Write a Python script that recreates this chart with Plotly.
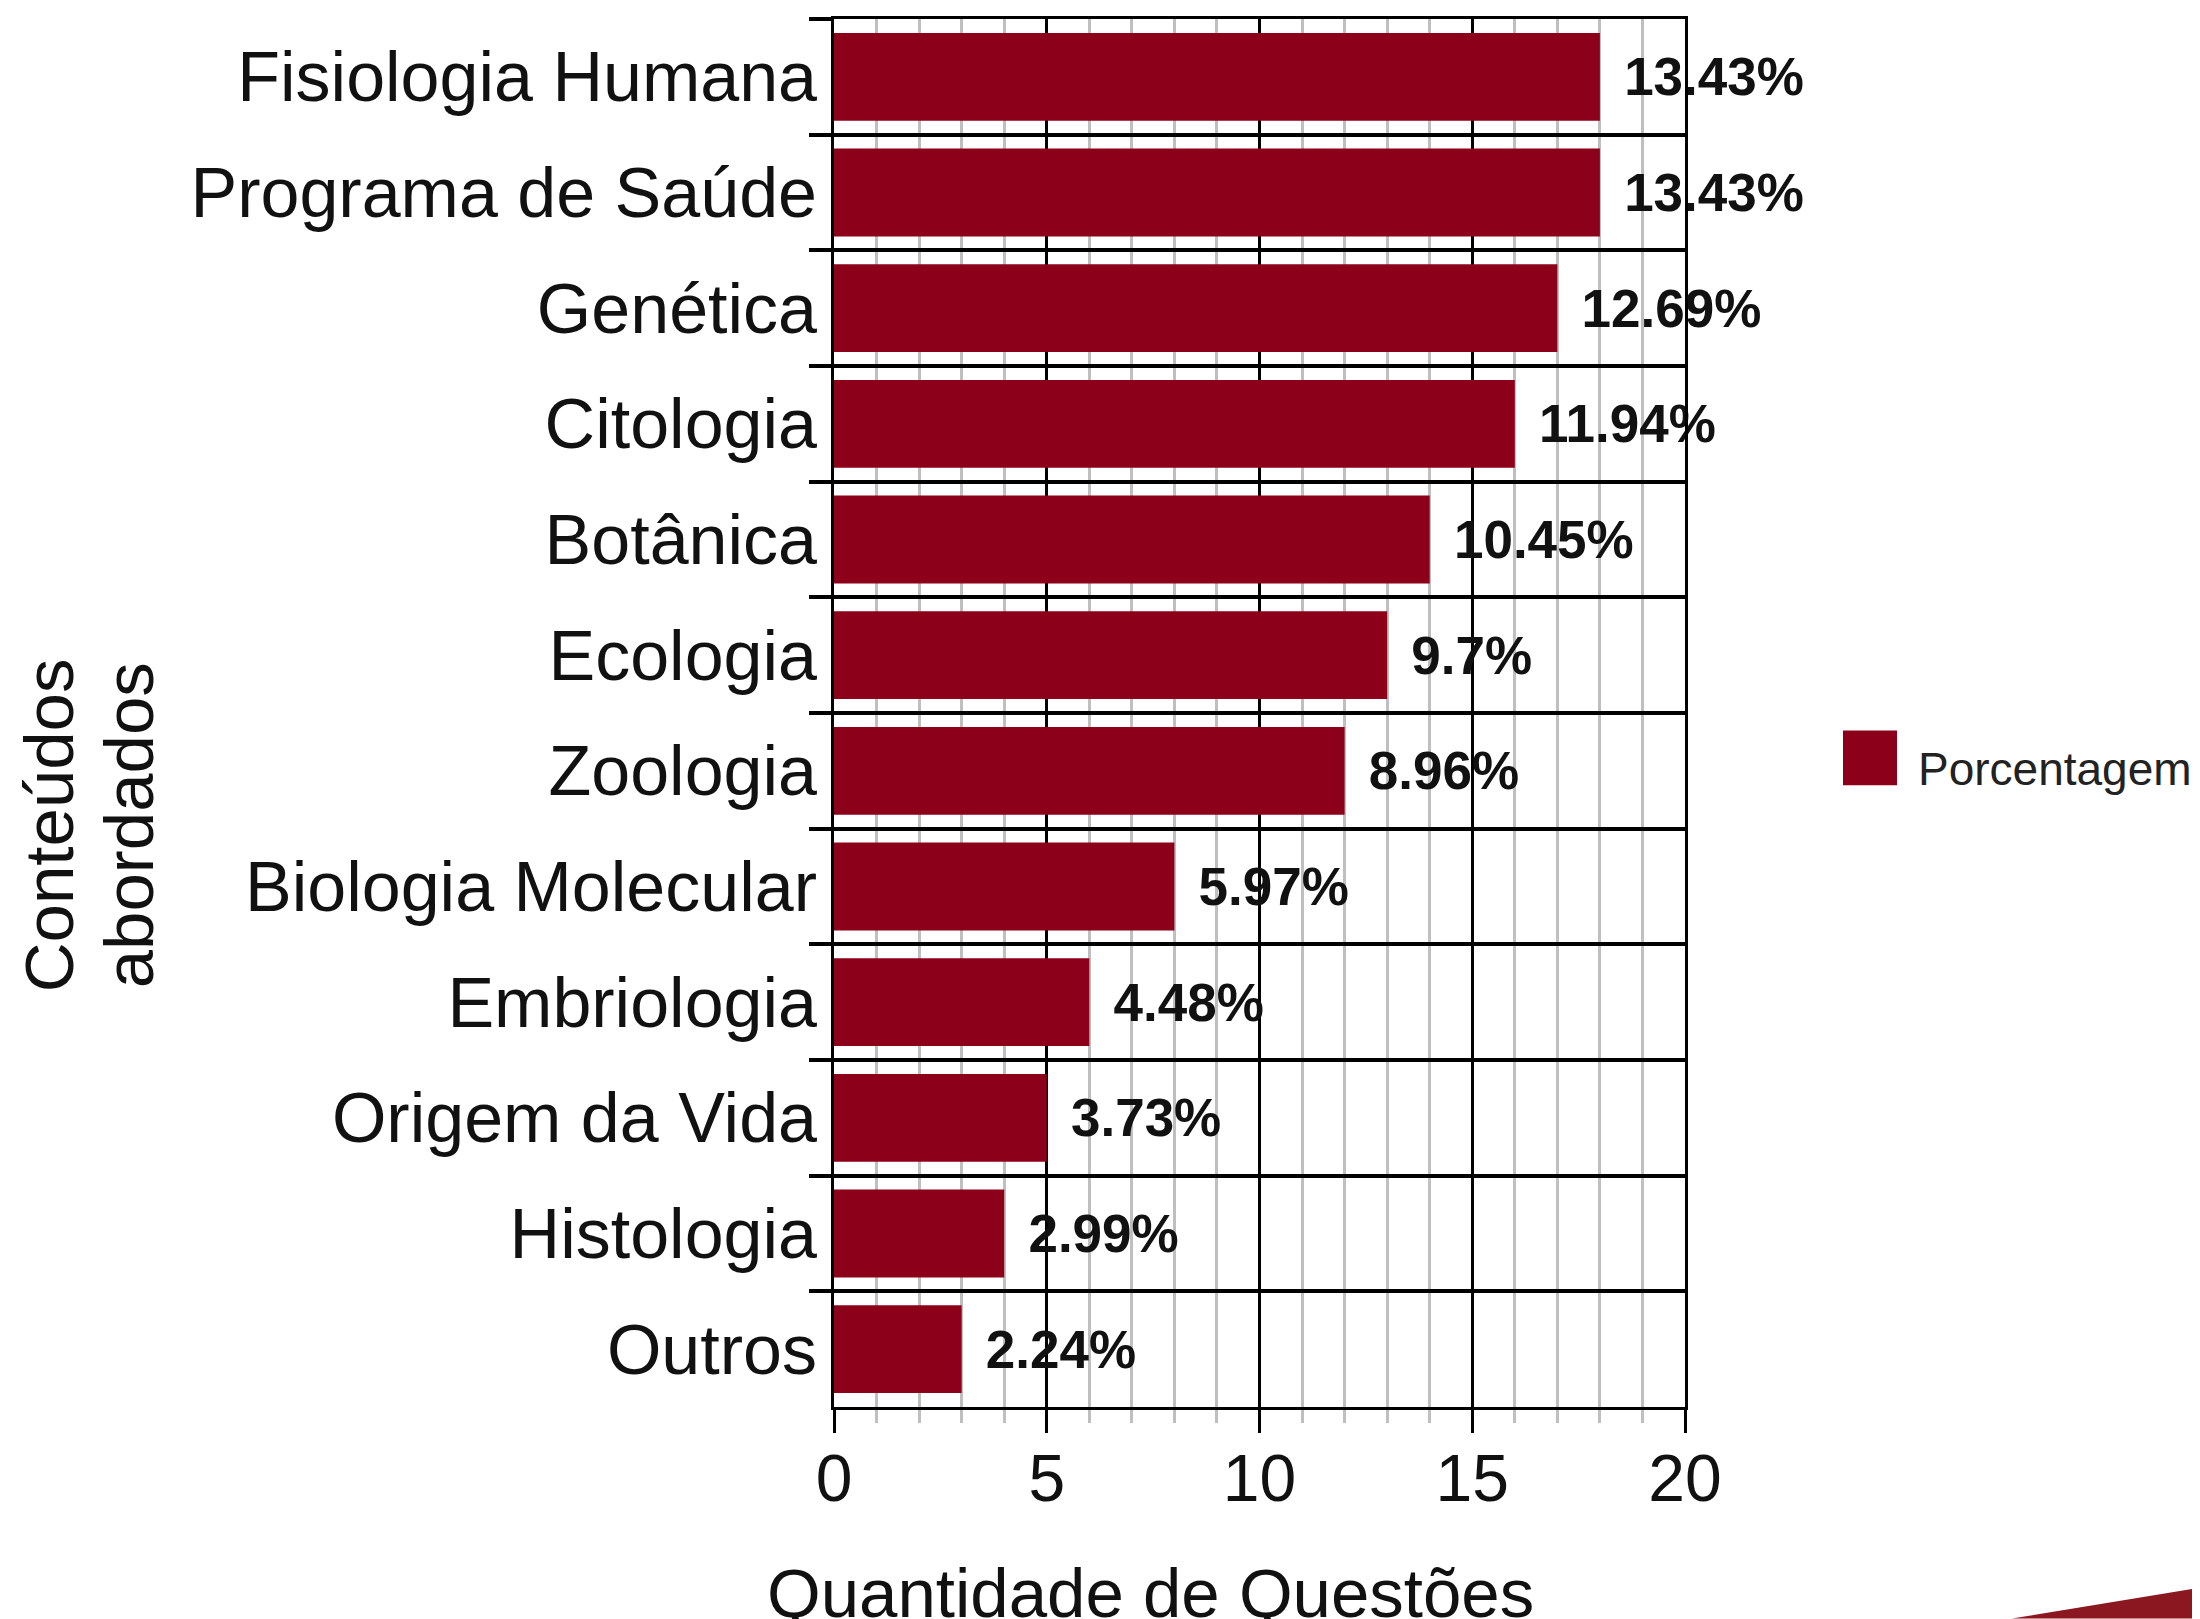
import plotly.graph_objects as go

# ---- data ----
categories = ["Fisiologia Humana", "Programa de Saúde", "Genética", "Citologia", "Botânica",
              "Ecologia", "Zoologia", "Biologia Molecular", "Embriologia", "Origem da Vida",
              "Histologia", "Outros"]
questions = [18, 18, 17, 16, 14, 13, 12, 8, 6, 5, 4, 3]
pct_labels = ["13.43%", "13.43%", "12.69%", "11.94%", "10.45%", "9.7%", "8.96%", "5.97%",
              "4.48%", "3.73%", "2.99%", "2.24%"]
x_ticks = [0, 5, 10, 15, 20]
legend_name = "Porcentagem"
x_title = "Quantidade de Questões"
y_title_lines = ["Conteúdos", "abordados"]

# ---- layout geometry (page pixels) ----
OFF = 8                     # browser body margin
W, H = 2200 - OFF, 1619 - OFF
PL, PR, PT, PB = 834, 1685, 16, 1407  # plot area edges on the page


def px_x(p):
    return (p - PL) / (PR - PL)


def px_y(p):
    return (PB - p) / (PB - PT)


FONT = "Liberation Sans, Arial, sans-serif"
BAR = "#8C001A"

fig = go.Figure()
fig.add_trace(go.Bar(
    x=questions, y=categories, orientation="h",
    marker=dict(color=BAR, line=dict(width=0)),
    text=["\u2009\u2009" + t for t in pct_labels],
    textposition="outside", constraintext="none", cliponaxis=False,
    textfont=dict(family=FONT, size=53, color="#111111", weight="bold"),
    name=legend_name, showlegend=False,
))

fig.update_layout(
    width=W, height=H,
    margin=dict(l=PL - OFF, r=W - (PR - OFF), t=PT - OFF, b=H - (PB - OFF), pad=0),
    paper_bgcolor="white", plot_bgcolor="white",
    bargap=0.24,
    font=dict(family=FONT, color="#111111"),
)

fig.update_xaxes(
    range=[0, 20], tickvals=x_ticks, ticks="outside", ticklen=23, tickwidth=3,
    tickcolor="black", showgrid=True, gridcolor="black", gridwidth=3,
    showline=True, linecolor="black", linewidth=3, mirror=True,
    tickfont=dict(family=FONT, size=66, color="#111111"),
    ticklabelstandoff=-11,
    minor=dict(dtick=1, showgrid=True, gridcolor="#bfbfbf", gridwidth=3,
               ticks="outside", ticklen=13, tickwidth=3, tickcolor="#bfbfbf"),
    zeroline=False, fixedrange=True,
)
fig.update_yaxes(
    categoryorder="array", categoryarray=categories, autorange="reversed",
    tickson="boundaries", ticks="outside", ticklen=22, tickwidth=4, tickcolor="black",
    showgrid=True, gridcolor="black", gridwidth=4,
    showline=True, linecolor="black", linewidth=3, mirror=True,
    tickfont=dict(family=FONT, size=70, color="#111111"),
    ticklabelstandoff=0,
)

# axis titles
fig.add_annotation(text=x_title, xref="paper", yref="paper",
                   x=px_x(1150), y=px_y(1594), xanchor="center", yanchor="middle",
                   showarrow=False, font=dict(family=FONT, size=69, color="#111111"))
for cx, line in zip((49, 129), y_title_lines):
    fig.add_annotation(text=line, xref="paper", yref="paper", textangle=-90,
                       x=px_x(cx), y=px_y(824), xanchor="center", yanchor="middle",
                       showarrow=False, font=dict(family=FONT, size=69, color="#111111"))

# legend (manual)
fig.add_shape(type="rect", xref="paper", yref="paper",
              x0=px_x(1843), x1=px_x(1897), y0=px_y(784), y1=px_y(729),
              fillcolor=BAR, line=dict(width=0))
fig.add_annotation(text=legend_name, xref="paper", yref="paper",
                   x=px_x(1916), y=px_y(768), xanchor="left", yanchor="middle",
                   showarrow=False, font=dict(family=FONT, size=46, color="#222222"))

# decorative swoosh bottom-right
sx = [px_x(v) for v in (2012, 2200, 2200)]
sy = [px_y(v) for v in (1619, 1588, 1619)]
path = f"M {sx[0]},{sy[0]} L {sx[1]},{sy[1]} L {sx[2]},{sy[2]} Z"
fig.add_shape(type="path", xref="paper", yref="paper", path=path,
              fillcolor="#8B1820", line=dict(width=0), layer="above")

fig.write_html("out.html")
